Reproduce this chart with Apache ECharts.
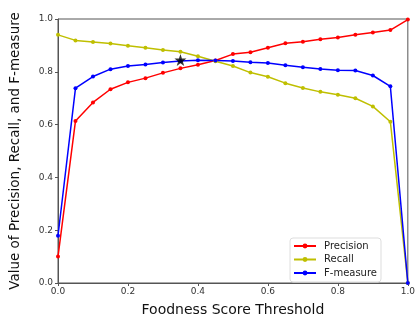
<!DOCTYPE html>
<html><head><meta charset="utf-8">
<script src="https://cdn.jsdelivr.net/npm/echarts@6/dist/echarts.min.js"></script>
<style>html,body{margin:0;padding:0;background:#fff}#c{width:418px;height:322px}</style>
</head><body><div id="c"></div>
<script>
const thresholds = [0,0.05,0.1,0.15,0.2,0.25,0.3,0.35,0.4,0.45,0.5,0.55,0.6,0.65,0.7,0.75,0.8,0.85,0.9,0.95,1.0];
const precision = [0.10,0.614,0.684,0.734,0.760,0.776,0.796,0.813,0.827,0.843,0.867,0.874,0.891,0.908,0.914,0.923,0.930,0.940,0.949,0.958,0.998];
const recall = [0.940,0.919,0.913,0.907,0.899,0.891,0.883,0.876,0.859,0.840,0.822,0.797,0.781,0.757,0.739,0.724,0.713,0.700,0.669,0.611,0.0];
const fmeasure = [0.179,0.738,0.782,0.810,0.822,0.828,0.835,0.841,0.844,0.843,0.841,0.836,0.833,0.825,0.817,0.811,0.806,0.805,0.786,0.745,0.0];
const bestPoint = [0.35, 0.845];
const xTicks = [0,0.2,0.4,0.6,0.8,1.0];

const pair = ys => thresholds.map((x,i)=>[x,ys[i]]);
const font = 'DejaVu Sans';
const chart = echarts.init(document.getElementById('c'));
function lineSeries(name, ys, color){
  return {name, type:'line', data:pair(ys), symbol:'circle', symbolSize:4,
    lineStyle:{color, width:1.5}, itemStyle:{color}, emphasis:{disabled:true}, animation:false};
}
chart.setOption({
  animation:false,
  textStyle:{fontFamily:font},
  grid:{left:53, right:7, top:19, bottom:35, show:true, borderColor:'#555', borderWidth:1},
  xAxis:{type:'value', min:0, max:1, interval:0.2,
    name:'Foodness Score Threshold', nameLocation:'middle', nameGap:20,
    nameTextStyle:{fontSize:14, color:'#111', fontFamily:font},
    axisLine:{show:true, lineStyle:{color:'#555'}}, axisTick:{show:true, length:3, lineStyle:{color:'#555'}},
    axisLabel:{fontSize:9, color:'#333', margin:4, fontFamily:font, formatter:v=>v.toFixed(1)},
    splitLine:{show:false}},
  yAxis:{type:'value', min:0, max:1, interval:0.2,
    name:'Value of Precision, Recall, and F-measure', nameLocation:'middle', nameGap:36,
    nameTextStyle:{fontSize:13.5, color:'#111', fontFamily:font},
    axisLine:{show:true, lineStyle:{color:'#555'}}, axisTick:{show:true, length:3, lineStyle:{color:'#555'}},
    axisLabel:{fontSize:9, color:'#333', margin:5, fontFamily:font, formatter:v=>v.toFixed(1)},
    splitLine:{show:false}},
  legend:{orient:'vertical', right:37, bottom:40, itemWidth:22, itemHeight:6, itemGap:3.5,
    padding:[3,4,4,3], borderColor:'#ddd', borderWidth:1, borderRadius:3, backgroundColor:'#fff',
    textStyle:{fontSize:10, color:'#222', fontFamily:font, padding:[0,0,0,3]},
    data:['Precision','Recall','F-measure']},
  series:[
    lineSeries('Precision', precision, '#ff0000'),
    lineSeries('Recall', recall, '#bfbf00'),
    lineSeries('F-measure', fmeasure, '#0000ff'),
    {name:'best', type:'scatter', data:[bestPoint], symbol:'path://M0,-10 L2.35,-3.24 L9.51,-3.09 L3.8,1.24 L5.88,8.09 L0,4 L-5.88,8.09 L-3.8,1.24 L-9.51,-3.09 L-2.35,-3.24 Z',
     symbolSize:12, itemStyle:{color:'#000'}, z:10, emphasis:{disabled:true}}
  ]
});
</script></body></html>
